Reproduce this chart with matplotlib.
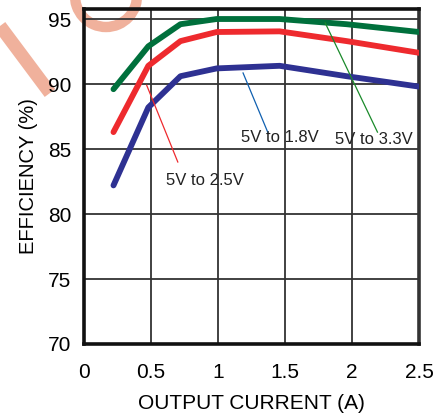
import matplotlib
matplotlib.use("Agg")
import matplotlib.pyplot as plt
from matplotlib.patches import Arc
from matplotlib.lines import Line2D

plt.rcParams['font.family'] = ['Liberation Sans', 'DejaVu Sans']

current = [0.22, 0.48, 0.72, 0.99, 1.46, 1.96, 2.5]
eff_33 = [89.6, 92.9, 94.6, 95.0, 95.0, 94.6, 94.0]
eff_25 = [86.3, 91.4, 93.3, 94.0, 94.05, 93.3, 92.4]
eff_18 = [82.2, 88.2, 90.6, 91.2, 91.4, 90.6, 89.8]

xticks = [0, 0.5, 1, 1.5, 2, 2.5]
xtick_labels = ['0', '0.5', '1', '1.5', '2', '2.5']
yticks = [70, 75, 80, 85, 90, 95]

W, H = 446, 415
fig = plt.figure(figsize=(W / 100, H / 100), dpi=100)

# watermark-like salmon strokes in the top-left corner (figure pixel coords)
wm = '#F0B19C'
fig.add_artist(Arc((106 / W, 1 + 4 / H), 62 / W, 62 / H, theta1=175, theta2=365,
                   transform=fig.transFigure, color=wm, lw=7.5, zorder=0))
fig.add_artist(Line2D([0 / W, 50 / W], [1 - 26 / H, 1 - 93 / H],
                      transform=fig.transFigure, color=wm, lw=9.5, zorder=0,
                      solid_capstyle='butt'))

ax = fig.add_axes([84 / W, 1 - 344 / H, (419 - 84) / W, (344 - 9) / H])
ax.set_facecolor('none')
ax.set_xlim(0, 2.5)
ax.set_ylim(70, 95.77)

ax.set_xticks(xticks)
ax.set_xticklabels(xtick_labels)
ax.set_yticks(yticks)
ax.tick_params(length=0, labelsize=15)
ax.tick_params(axis='x', pad=14)
ax.tick_params(axis='y', pad=9)
ax.grid(True, color='#333333', lw=1.3)
ax.set_axisbelow(True)

for side in ['left', 'bottom', 'top']:
    ax.spines[side].set_color('#111111')
    ax.spines[side].set_linewidth(2.6)
ax.spines['right'].set_color('#333333')
ax.spines['right'].set_linewidth(2.6)

ax.plot(current, eff_33, color='#00703C', lw=4.2, solid_capstyle='round', zorder=3)
ax.plot(current, eff_25, color='#EE2A2E', lw=4.2, solid_capstyle='round', zorder=3)
ax.plot(current, eff_18, color='#2E3192', lw=4.2, solid_capstyle='round', zorder=3)

ax.set_xlabel('OUTPUT CURRENT (A)', fontsize=15, labelpad=8)
ax.set_ylabel('EFFICIENCY (%)', fontsize=14.5, labelpad=7)

# annotations
ax.plot([1.187, 1.373], [90.85, 86.25], color='#1060B0', lw=0.9, zorder=4)
ax.text(1.17, 85.85, '5V to 1.8V', fontsize=12, va='center', ha='left', color='#222222', zorder=5)
ax.plot([1.80, 2.19], [94.7, 86.3], color='#1A8A2A', lw=0.9, zorder=4)
ax.text(1.87, 85.7, '5V to 3.3V', fontsize=12, va='center', ha='left', color='#222222', zorder=5)
ax.plot([0.468, 0.70], [89.9, 84.0], color='#EE2A2E', lw=0.9, zorder=4)
ax.text(0.61, 82.6, '5V to 2.5V', fontsize=12, va='center', ha='left', color='#222222', zorder=5)

fig.savefig('out.png', dpi=100)
